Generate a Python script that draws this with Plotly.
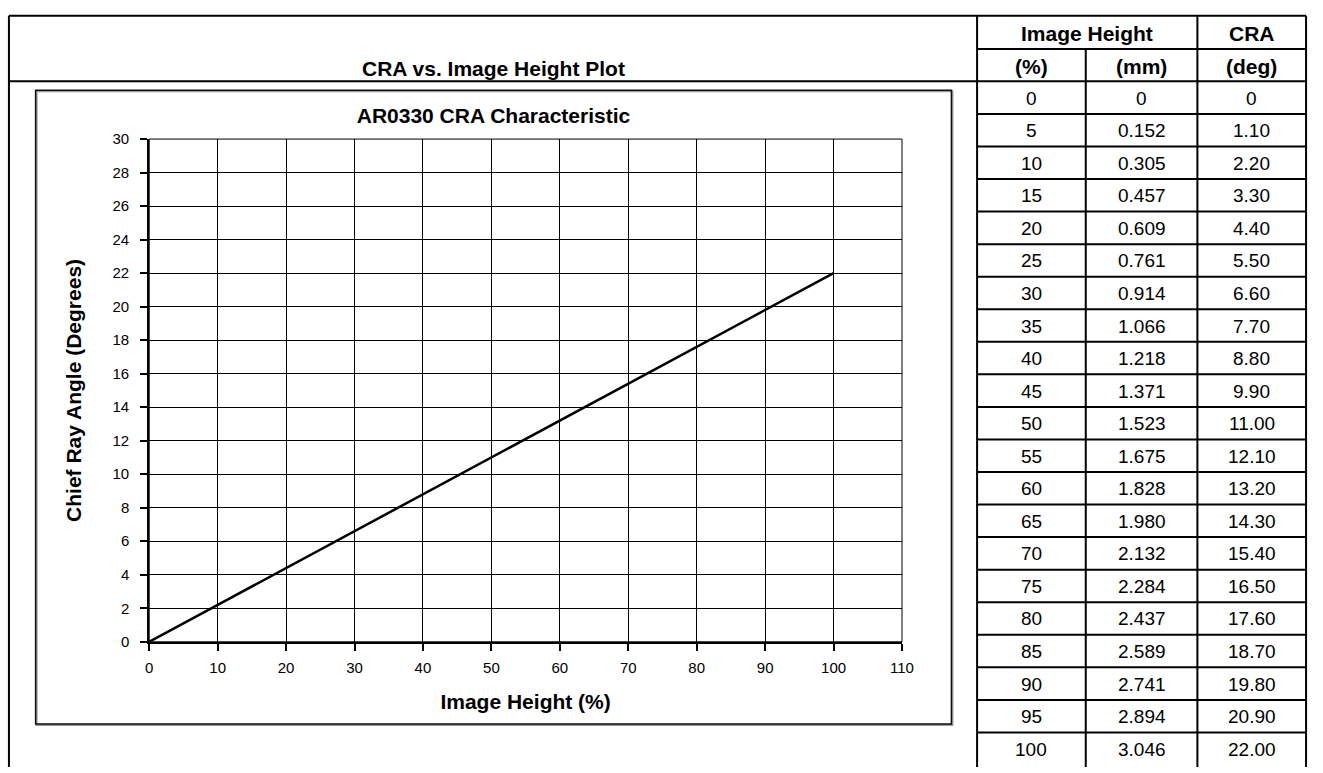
import plotly.graph_objects as go

# ---------------- data ----------------
image_height_pct = [0, 5, 10, 15, 20, 25, 30, 35, 40, 45, 50, 55, 60, 65, 70, 75, 80, 85, 90, 95, 100]
image_height_mm = [0, 0.152, 0.305, 0.457, 0.609, 0.761, 0.914, 1.066, 1.218, 1.371, 1.523,
                   1.675, 1.828, 1.980, 2.132, 2.284, 2.437, 2.589, 2.741, 2.894, 3.046]
cra_deg = [0, 1.10, 2.20, 3.30, 4.40, 5.50, 6.60, 7.70, 8.80, 9.90, 11.00,
           12.10, 13.20, 14.30, 15.40, 16.50, 17.60, 18.70, 19.80, 20.90, 22.00]

page_title = "CRA vs. Image Height Plot"
chart_title = "AR0330 CRA Characteristic"
x_title = "Image Height (%)"
y_title = "Chief Ray Angle (Degrees)"
table_group_headers = ["Image Height", "CRA"]
table_unit_headers = ["(%)", "(mm)", "(deg)"]

# ---------------- geometry (pixels) ----------------
W, H = 1323, 773
FONT = "Liberation Sans, Arial, Helvetica, sans-serif"
HDR_SIZE = 21
CELL_SIZE = 19


def fx(x):
    return x / W


def fy(y):
    return 1 - y / H


outer_left, outer_right, outer_top = 5, 1318, 7
col_edges = [985, 1095, 1208, 1318]
hdr1_bottom, hdr2_bottom = 41, 74
row_h = (H - hdr2_bottom) / len(image_height_pct)

plot_x0, plot_x1 = 147, 909
plot_y_top, plot_y_bot = 133, 647
box = (32, 83, 959, 731)

fig = go.Figure()

fig.add_trace(go.Scatter(
    x=image_height_pct, y=cra_deg, mode="lines",
    line=dict(color="black", width=2.5), showlegend=False, hoverinfo="x+y",
))

shapes = []
annotations = []
LW = 2


def hline(x0, x1, y, w=LW):
    shapes.append(dict(type="line", xref="paper", yref="paper", x0=fx(x0), x1=fx(x1),
                       y0=fy(y), y1=fy(y), line=dict(color="black", width=w)))


def vline(x, y0, y1, w=LW):
    shapes.append(dict(type="line", xref="paper", yref="paper", x0=fx(x), x1=fx(x),
                       y0=fy(y0), y1=fy(y1), line=dict(color="black", width=w)))


def text(x, y, s, size, bold=False):
    annotations.append(dict(xref="paper", yref="paper", x=fx(x), y=fy(y), text=(f"<b>{s}</b>" if bold else s),
                            showarrow=False, xanchor="center", yanchor="middle",
                            font=dict(family=FONT, size=size, color="black")))


# outer page table frame
hline(outer_left, outer_right, outer_top)
hline(outer_left, outer_right, hdr2_bottom)
hline(col_edges[0], outer_right, hdr1_bottom)
vline(outer_left, outer_top, H + 2)
vline(col_edges[0], outer_top, H + 2)
vline(col_edges[1], hdr1_bottom, H + 2)
vline(col_edges[2], outer_top, H + 2)
vline(col_edges[3], outer_top, H + 2)
for i in range(1, len(image_height_pct)):
    hline(col_edges[0], col_edges[3], hdr2_bottom + i * row_h)

# headers
text((outer_left + col_edges[0]) / 2, 61, page_title, HDR_SIZE, True)
text((col_edges[0] + col_edges[2]) / 2, 25, table_group_headers[0], HDR_SIZE, True)
text((col_edges[2] + col_edges[3]) / 2, 25, table_group_headers[1], HDR_SIZE, True)
for j, s in enumerate(table_unit_headers):
    text((col_edges[j] + col_edges[j + 1]) / 2, 59, s, HDR_SIZE, True)


# table cells
def fmt_mm(v):
    return f"{v:.3f}" if v else "0"


def fmt_deg(v):
    return f"{v:.2f}" if v else "0"


for i, (p, m, c) in enumerate(zip(image_height_pct, image_height_mm, cra_deg)):
    yc = hdr2_bottom + (i + 0.5) * row_h + 0.5
    for j, s in enumerate([str(p), fmt_mm(m), fmt_deg(c)]):
        text((col_edges[j] + col_edges[j + 1]) / 2, yc, s, CELL_SIZE)

# chart box (with slight shadow)
shapes.append(dict(type="rect", xref="paper", yref="paper", x0=fx(box[0] + 1), x1=fx(box[2] + 1),
                   y0=fy(box[1] + 1), y1=fy(box[3] + 1), line=dict(color="#9a9a9a", width=2)))
shapes.append(dict(type="rect", xref="paper", yref="paper", x0=fx(box[0]), x1=fx(box[2]),
                   y0=fy(box[1]), y1=fy(box[3]), line=dict(color="#111111", width=1.5)))
# plot-area frame (top / right edges)
shapes.append(dict(type="rect", xref="x domain", yref="y domain", x0=0, x1=1, y0=0, y1=1,
                   line=dict(color="black", width=1), layer="below"))

fig.update_layout(
    width=W, height=H,
    margin=dict(l=0, r=0, t=0, b=0),
    paper_bgcolor="white", plot_bgcolor="white",
    font=dict(family=FONT, color="black"),
    title=dict(text=f"<b>{chart_title}</b>", x=fx((box[0] + box[2]) / 2), y=fy(109),
               xref="paper", yref="paper", xanchor="center", yanchor="middle",
               font=dict(family=FONT, size=21, color="black")),
    shapes=shapes, annotations=annotations,
    xaxis=dict(domain=[fx(plot_x0), fx(plot_x1)], range=[0, 110], dtick=10, tick0=0,
               showgrid=True, gridcolor="black", gridwidth=1,
               showline=True, linecolor="black", linewidth=2,
               ticks="outside", ticklen=7, tickwidth=1.5, tickcolor="black",
               tickfont=dict(family=FONT, size=15, color="black"), ticklabelstandoff=4,
               zeroline=False, fixedrange=True,
               title=dict(text=f"<b>{x_title}</b>", font=dict(family=FONT, size=21, color="black"), standoff=20)),
    yaxis=dict(domain=[fy(plot_y_bot), fy(plot_y_top)], range=[0, 30], dtick=2, tick0=0,
               showgrid=True, gridcolor="black", gridwidth=1,
               showline=True, linecolor="black", linewidth=2,
               ticks="outside", ticklen=7, tickwidth=1.5, tickcolor="black",
               tickfont=dict(family=FONT, size=15, color="black"), ticklabelstandoff=8,
               zeroline=False, fixedrange=True,
               title=dict(text=f"<b>{y_title}</b>", font=dict(family=FONT, size=21, color="black"), standoff=25)),
)

fig.write_html("out.html", config={"displayModeBar": False},
               post_script="document.body.style.margin='0';document.body.style.overflow='hidden';")
